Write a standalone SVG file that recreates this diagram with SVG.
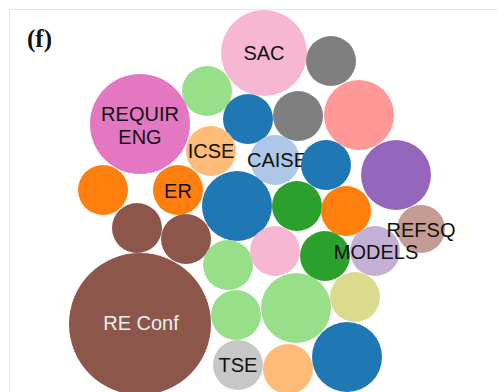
<svg xmlns="http://www.w3.org/2000/svg" width="497" height="392" viewBox="0 0 497 392">
<style>
.t{font-family:"Liberation Sans",Arial,sans-serif;font-size:20px;text-anchor:middle;fill:#111}
.w{fill:#eeeeee}
</style>
<rect width="497" height="392" fill="#fff"/>
<path d="M9.5 400V9.5H500" fill="none" stroke="#e6e6e6" stroke-width="1"/>
<text x="27" y="47" font-family="'Liberation Serif',serif" font-weight="bold" font-size="25" fill="#111">(f)</text>
<g id="nodes">
<g id="sac"><circle cx="264" cy="53" r="43" fill="#f7b6d2"/><text class="t" x="264" y="60">SAC</text></g>
<g id="n-gray1"><circle cx="331" cy="61" r="25" fill="#7f7f7f"/></g>
<g id="n-green1"><circle cx="207" cy="91" r="25" fill="#98df8a"/></g>
<g id="requir"><circle cx="140" cy="124" r="50" fill="#e377c2"/><text class="t" x="140" y="121">REQUIR</text><text class="t" x="140" y="144">ENG</text></g>
<g id="n-blue1"><circle cx="248" cy="119" r="25" fill="#1f77b4"/></g>
<g id="n-gray2"><circle cx="298" cy="116" r="25" fill="#7f7f7f"/></g>
<g id="n-salmon"><circle cx="359" cy="115" r="35" fill="#ff9896"/></g>
<g id="icse"><circle cx="211" cy="151" r="25" fill="#ffbb78"/><text class="t" x="211" y="158">ICSE</text></g>
<g id="caise"><circle cx="275" cy="160" r="25" fill="#aec7e8"/><text class="t" x="277" y="167">CAISE</text></g>
<g id="n-blue2"><circle cx="326" cy="165" r="25" fill="#1f77b4"/></g>
<g id="n-purple"><circle cx="396" cy="175" r="35" fill="#9467bd"/></g>
<g id="n-orange1"><circle cx="103" cy="190" r="25" fill="#ff7f0e"/></g>
<g id="er"><circle cx="178" cy="190" r="25" fill="#ff7f0e"/><text class="t" x="178" y="198">ER</text></g>
<g id="n-blue3"><circle cx="237" cy="206" r="35" fill="#1f77b4"/></g>
<g id="n-dgreen1"><circle cx="297" cy="206" r="25" fill="#2ca02c"/></g>
<g id="n-orange2"><circle cx="346" cy="211" r="25" fill="#ff7f0e"/></g>
<g id="n-brown1"><circle cx="137" cy="228" r="25" fill="#8c564b"/></g>
<g id="n-brown2"><circle cx="186" cy="239" r="25" fill="#8c564b"/></g>
<g id="reconf"><circle cx="140" cy="324" r="71" fill="#8c564b"/><text class="t w" x="141" y="330">RE Conf</text></g>
<g id="n-lgreen1"><circle cx="228" cy="265" r="25" fill="#98df8a"/></g>
<g id="n-pink2"><circle cx="275" cy="251" r="25" fill="#f7b6d2"/></g>
<g id="n-dgreen2"><circle cx="325" cy="256" r="25" fill="#2ca02c"/></g>
<g id="refsq"><circle cx="421" cy="229" r="24" fill="#c49c94"/></g>
<g id="models"><circle cx="375" cy="251" r="25" fill="#c5b0d5"/></g>
<g id="n-lgreen2"><circle cx="236" cy="315" r="25" fill="#98df8a"/></g>
<g id="n-lgreen3"><circle cx="296" cy="308" r="35" fill="#98df8a"/></g>
<g id="n-olive"><circle cx="355" cy="297" r="25" fill="#dbdb8d"/></g>
<g id="tse"><circle cx="238" cy="365" r="25" fill="#c7c7c7"/><text class="t" x="238" y="372">TSE</text></g>
<g id="n-lorange"><circle cx="288" cy="369" r="25" fill="#ffbb78"/></g>
<g id="n-blue4"><circle cx="347" cy="357" r="35" fill="#1f77b4"/></g>
<g id="labels"><text class="t" x="421" y="237">REFSQ</text><text class="t" x="376" y="259">MODELS</text></g>
</g>
<g id="connectors"/>
</svg>
